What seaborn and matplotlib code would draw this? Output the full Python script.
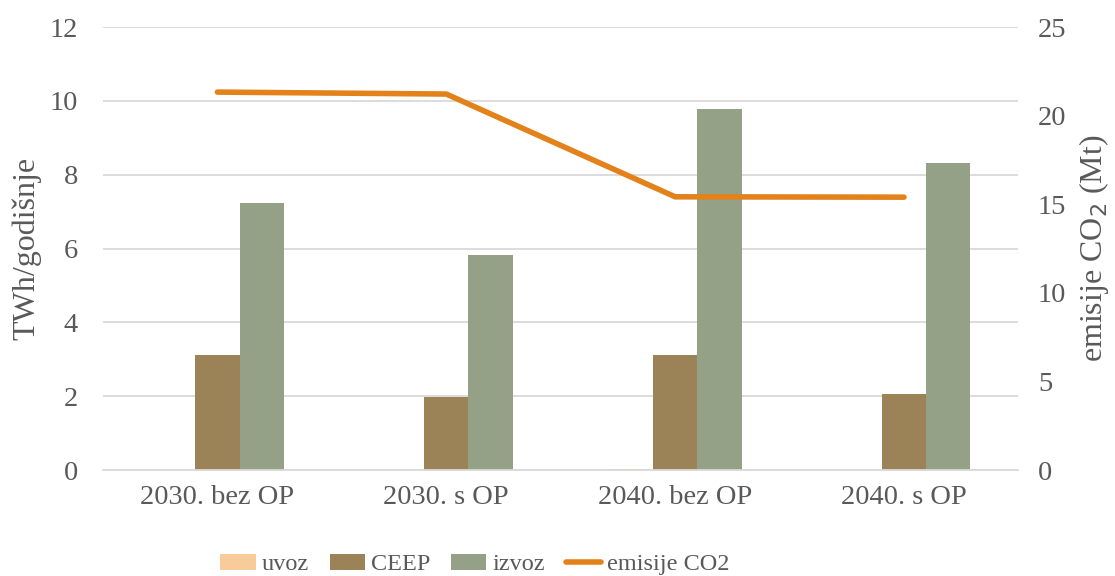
import matplotlib
matplotlib.use("Agg")
import matplotlib.pyplot as plt
import seaborn as sns
import pandas as pd
from matplotlib.patches import Patch
from matplotlib.lines import Line2D

categories = ["2030. bez OP", "2030. s OP", "2040. bez OP", "2040. s OP"]
uvoz = [0.0, 0.0, 0.02, 0.0]
ceep = [3.12, 1.99, 3.11, 2.07]
izvoz = [7.23, 5.83, 9.77, 8.33]
emisije = [21.33, 21.22, 15.42, 15.40]

series_names = ["uvoz", "CEEP", "izvoz"]
colors = {"uvoz": "#F8CB9A", "CEEP": "#9C8357", "izvoz": "#95A187"}
line_color = "#E3821A"
text_color = "#595959"
grid_color = "#D9D9D9"
FS = 20.5
FS_LABEL = 23
FS_LEG = 17.5

sns.set_theme(style="white")
plt.rcParams["font.family"] = ["Liberation Serif", "DejaVu Serif"]

rows = []
for name, vals in zip(series_names, [uvoz, ceep, izvoz]):
    for c, v in zip(categories, vals):
        rows.append({"kategorija": c, "serija": name, "vrijednost": v})
df = pd.DataFrame(rows)
df_line = pd.DataFrame({"kategorija": categories, "emisije": emisije})

fig = plt.figure(figsize=(11.15, 5.76), dpi=100)
ax = fig.add_axes([0.0924, 0.184, 0.821, 0.769])

sns.barplot(data=df, x="kategorija", y="vrijednost", hue="serija",
            order=categories, hue_order=series_names, palette=colors,
            width=0.58, ax=ax, legend=False, saturation=1,
            edgecolor="none", linewidth=0)

ax.set_ylim(0, 12)
ax.set_yticks(range(0, 13, 2))
ax.set_xlim(-0.5, 3.5)
ax.yaxis.grid(True, color=grid_color, linewidth=1.3)
ax.set_axisbelow(True)
for s in ["left", "right", "top"]:
    ax.spines[s].set_visible(False)
ax.spines["bottom"].set_color(grid_color)
ax.spines["bottom"].set_linewidth(1.3)
ax.set_xlabel("")
ax.set_ylabel("TWh/godišnje", fontsize=FS_LABEL, color=text_color, labelpad=6)
ax.tick_params(axis="both", length=0, labelsize=FS, colors=text_color)
ax.tick_params(axis="x", pad=11)
ax.tick_params(axis="y", pad=18)

ax2 = ax.twinx()
sns.lineplot(data=df_line, x="kategorija", y="emisije", ax=ax2,
             color=line_color, linewidth=4, solid_capstyle="round", sort=False)
ax2.set_ylim(0, 25)
ax2.set_yticks(range(0, 26, 5))
ax2.set_xlim(-0.5, 3.5)
for s in ["left", "right", "top", "bottom"]:
    ax2.spines[s].set_visible(False)
ax2.grid(False)
ax2.set_ylabel("emisije CO$_2$ (Mt)", fontsize=FS_LABEL, color=text_color, labelpad=8)
ax2.tick_params(axis="y", length=0, labelsize=FS, colors=text_color, pad=14)

handles = [Patch(facecolor=colors[n], edgecolor="none") for n in series_names]
handles.append(Line2D([0], [0], color=line_color, linewidth=4, solid_capstyle="round"))
labels = series_names + ["emisije CO2"]
fig.legend(handles, labels, loc="lower center", bbox_to_anchor=(0.426, -0.037), ncol=4,
           frameon=False, fontsize=FS_LEG, labelcolor=text_color,
           handlelength=1.45, handletextpad=0.25, columnspacing=0.85, handleheight=0.62)

fig.savefig("out.png", dpi=100)
